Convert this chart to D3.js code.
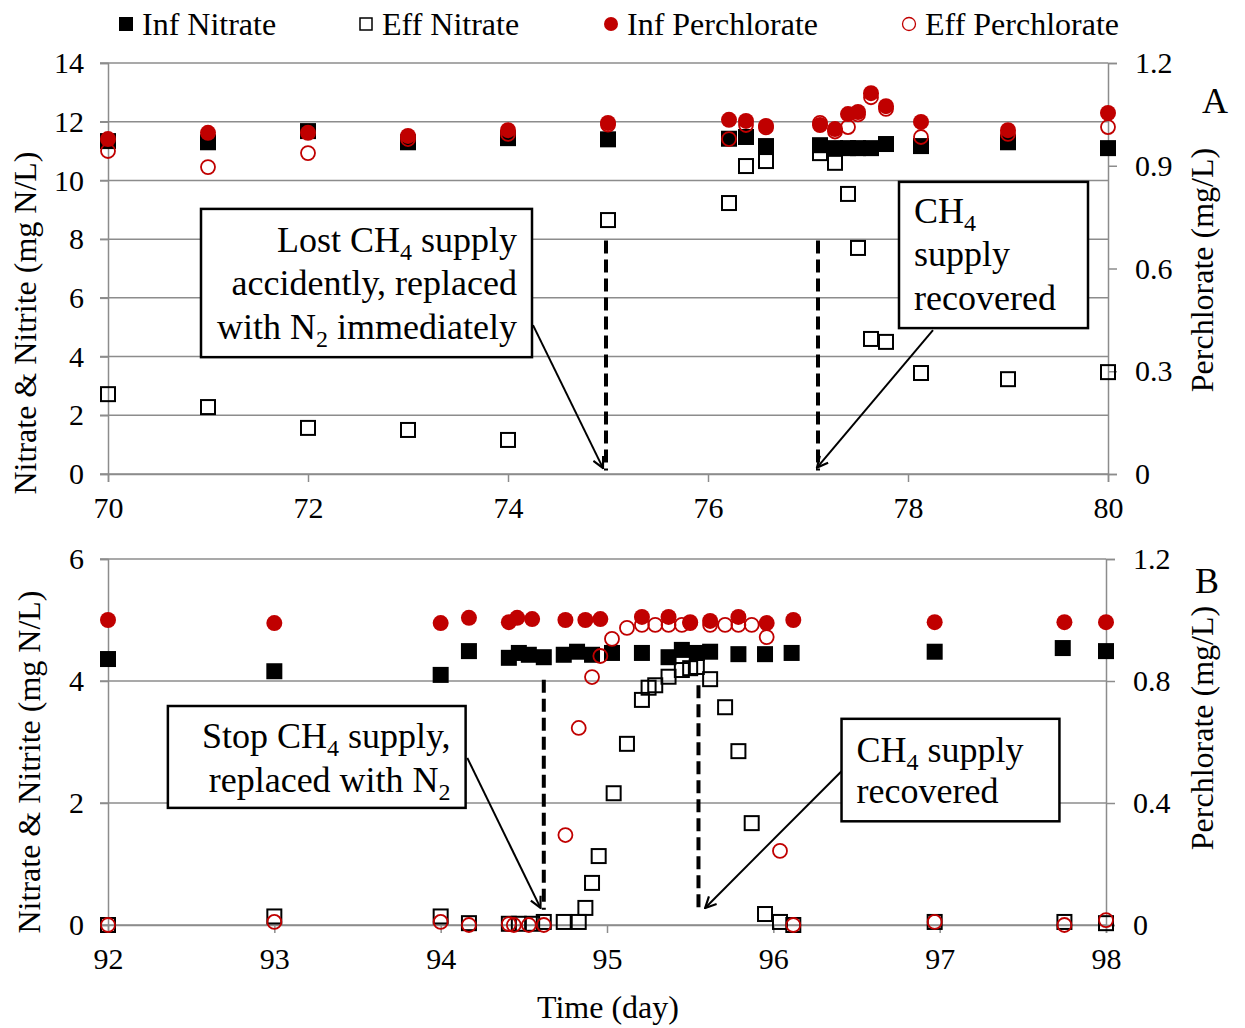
<!DOCTYPE html>
<html>
<head>
<meta charset="utf-8">
<script src="https://cdn.jsdelivr.net/npm/d3@7"></script>
<style>
  body { margin: 0; background: #fff; }
  svg text { font-family: "Liberation Serif", "Times New Roman", serif; fill: #000; }
</style>
</head>
<body>
<div id="chart"></div>
<script>
// ---- panel A (days 70-80) ----
const aTimes = [70, 71, 72, 73, 74, 75, 76.21, 76.38, 76.58, 77.12, 77.27, 77.4, 77.5, 77.63, 77.78, 78.13, 79, 80];
const aInfNitrate = [11.34, 11.3, 11.68, 11.3, 11.44, 11.4, 11.42, 11.48, 11.17, 11.2, 11.1, 11.1, 11.1, 11.1, 11.24, 11.17, 11.3, 11.1];
const aEffNitrate = [2.72, 2.28, 1.57, 1.5, 1.16, 8.65, 9.23, 10.49, 10.66, 10.93, 10.6, 9.54, 7.7, 4.6, 4.5, 3.44, 3.23, 3.47];
const aInfPerchlorate = [0.978, 0.996, 0.996, 0.987, 1.004, 1.025, 1.034, 1.031, 1.016, 1.019, 1.007, 1.051, 1.057, 1.112, 1.074, 1.028, 1.004, 1.054];
const aEffPerchlorate = [0.943, 0.896, 0.937, 0.978, 0.993, 1.02, 0.978, 1.019, 1.012, 1.025, 1.0, 1.013, 1.05, 1.10, 1.066, 0.984, 0.993, 1.013];

// ---- panel B (days 92-98) ----
const bInfNitrateT = [92, 93, 94, 94.17, 94.41, 94.47, 94.53, 94.62, 94.74, 94.82, 94.91, 95.03, 95.21, 95.37, 95.45, 95.54, 95.62, 95.79, 95.95, 96.11, 96.97, 97.74, 98];
const bInfNitrate = [4.36, 4.16, 4.1, 4.49, 4.38, 4.46, 4.43, 4.39, 4.43, 4.48, 4.43, 4.46, 4.46, 4.39, 4.51, 4.46, 4.48, 4.44, 4.44, 4.46, 4.48, 4.54, 4.49];
const bEffNitrateT = [92, 93, 94, 94.17, 94.41, 94.47, 94.55, 94.62, 94.74, 94.83, 94.87, 94.91, 94.95, 95.04, 95.12, 95.21, 95.25, 95.29, 95.37, 95.45, 95.5, 95.54, 95.62, 95.71, 95.79, 95.87, 95.95, 96.04, 96.12, 96.97, 97.75, 98];
const bEffNitrate = [0.0, 0.14, 0.14, 0.03, 0.02, 0.02, 0.02, 0.05, 0.05, 0.05, 0.28, 0.69, 1.13, 2.16, 2.97, 3.69, 3.89, 3.93, 4.07, 4.18, 4.21, 4.23, 4.03, 3.57, 2.85, 1.67, 0.18, 0.05, 0.0, 0.05, 0.05, 0.03];
const bInfPerchlorateT = [92, 93, 94, 94.17, 94.41, 94.46, 94.55, 94.75, 94.87, 94.96, 95.21, 95.37, 95.5, 95.62, 95.79, 95.96, 96.12, 96.97, 97.75, 98];
const bInfPerchlorate = [1.0, 0.99, 0.99, 1.007, 0.993, 1.007, 1.003, 1.0, 1.0, 1.003, 1.01, 1.01, 0.993, 0.997, 1.01, 0.99, 1.0, 0.993, 0.993, 0.993];
const bEffPerchlorateT = [92, 93, 94, 94.17, 94.41, 94.44, 94.53, 94.62, 94.75, 94.83, 94.91, 94.96, 95.03, 95.12, 95.21, 95.29, 95.37, 95.45, 95.5, 95.62, 95.71, 95.79, 95.87, 95.96, 96.04, 96.12, 96.97, 97.75, 98];
const bEffPerchlorate = [0.0, 0.01, 0.01, 0.0, 0.003, 0.0, 0.0, 0.0, 0.295, 0.646, 0.813, 0.882, 0.938, 0.974, 0.984, 0.984, 0.984, 0.984, 0.99, 0.984, 0.984, 0.984, 0.984, 0.944, 0.243, 0.0, 0.01, 0.0, 0.016];

const legendLabels = ["Inf Nitrate", "Eff Nitrate", "Inf Perchlorate", "Eff Perchlorate"];
const leftTitle = "Nitrate & Nitrite (mg N/L)";
const rightTitle = "Perchlorate (mg/L)";
const xTitle = "Time (day)";

const RED = "#C00000";
const GRID = "#8c8c8c";

const width = 1245, height = 1028;

const svg = d3.select("#chart")
  .append("svg")
  .attr("width", width)
  .attr("height", height);

// arrow head marker
svg.append("defs").append("marker")
  .attr("id", "arrow")
  .attr("viewBox", "0 0 12 12")
  .attr("refX", 11)
  .attr("refY", 6)
  .attr("markerWidth", 13)
  .attr("markerHeight", 13)
  .attr("markerUnits", "userSpaceOnUse")
  .attr("orient", "auto")
  .append("path")
  .attr("d", "M1,1 L11,6 L1,11")
  .attr("fill", "none")
  .attr("stroke", "#000")
  .attr("stroke-width", 2);

function zip(t, v) {
  return t.map((d, i) => ({ t: d, v: v[i] }));
}

function drawPanel(cfg) {
  const x = d3.scaleLinear().domain(cfg.xDomain).range([108, cfg.right]);
  const yL = d3.scaleLinear().domain(cfg.yDomain).range([cfg.bottom, cfg.top]);
  const yR = d3.scaleLinear().domain([0, 1.2]).range([cfg.bottom, cfg.top]);

  const g = svg.append("g");

  // gridlines
  g.append("g")
    .selectAll("line")
    .data(cfg.yTicks)
    .join("line")
    .attr("x1", 108 - 8)
    .attr("x2", cfg.right)
    .attr("y1", d => yL(d))
    .attr("y2", d => yL(d))
    .attr("stroke", GRID)
    .attr("stroke-width", 1.5);

  // left axis
  const left = g.append("g")
    .attr("transform", "translate(108,0)")
    .call(d3.axisLeft(yL).tickValues(cfg.yTicks).tickSize(8).tickPadding(16).tickFormat(d3.format("d")));

  // right axis
  const right = g.append("g")
    .attr("transform", `translate(${cfg.right},0)`)
    .call(d3.axisRight(yR).tickValues(cfg.rTicks).tickSize(9).tickPadding(18).tickFormat(d => d === 0 ? "0" : d3.format(".1f")(d)));

  // bottom axis
  const bottom = g.append("g")
    .attr("transform", `translate(0,${cfg.bottom})`)
    .call(d3.axisBottom(x).tickValues(cfg.xTicks).tickSize(8).tickPadding(15).tickFormat(d3.format("d")));

  [left, right, bottom].forEach(ax => {
    ax.selectAll(".domain").attr("stroke", GRID).attr("stroke-width", 1.5);
    ax.selectAll(".tick line").attr("stroke", GRID).attr("stroke-width", 1.5);
    ax.selectAll("text")
      .style("font-family", "'Liberation Serif', serif")
      .style("font-size", "30px")
      .attr("fill", "#000");
  });

  // dashed event lines
  g.append("g")
    .selectAll("line")
    .data(cfg.events)
    .join("line")
    .attr("x1", d => x(d.t))
    .attr("x2", d => x(d.t))
    .attr("y1", d => yL(d.from))
    .attr("y2", d => yL(d.to))
    .attr("stroke", "#000")
    .attr("stroke-width", 4)
    .attr("stroke-dasharray", "13,6");

  // Eff Nitrate (open squares)
  g.append("g")
    .selectAll("rect")
    .data(zip(cfg.effNT, cfg.effN))
    .join("rect")
    .attr("x", d => x(d.t) - 7)
    .attr("y", d => yL(d.v) - 7)
    .attr("width", 14)
    .attr("height", 14)
    .attr("fill", "none")
    .attr("stroke", "#000")
    .attr("stroke-width", 2);

  // Inf Nitrate (filled squares)
  g.append("g")
    .selectAll("rect")
    .data(zip(cfg.infNT, cfg.infN))
    .join("rect")
    .attr("x", d => x(d.t) - 8)
    .attr("y", d => yL(d.v) - 8)
    .attr("width", 16)
    .attr("height", 16)
    .attr("fill", "#000");

  // Eff Perchlorate (open circles)
  g.append("g")
    .selectAll("circle")
    .data(zip(cfg.effPT, cfg.effP))
    .join("circle")
    .attr("cx", d => x(d.t))
    .attr("cy", d => yR(d.v))
    .attr("r", 7)
    .attr("fill", "none")
    .attr("stroke", RED)
    .attr("stroke-width", 1.8);

  // Inf Perchlorate (filled circles)
  g.append("g")
    .selectAll("circle")
    .data(zip(cfg.infPT, cfg.infP))
    .join("circle")
    .attr("cx", d => x(d.t))
    .attr("cy", d => yR(d.v))
    .attr("r", 8)
    .attr("fill", RED);

  // annotation boxes + arrows
  cfg.notes.forEach(n => {
    const bx0 = x(n.box[0]), bx1 = x(n.box[1]);
    const by0 = yL(n.box[2]), by1 = yL(n.box[3]);
    g.append("line")
      .attr("x1", x(n.arrow[0]))
      .attr("y1", yL(n.arrow[1]))
      .attr("x2", x(n.arrow[2]))
      .attr("y2", yL(n.arrow[3]))
      .attr("stroke", "#000")
      .attr("stroke-width", 2)
      .attr("marker-end", "url(#arrow)");
    g.append("rect")
      .attr("x", bx0)
      .attr("y", by0)
      .attr("width", bx1 - bx0)
      .attr("height", by1 - by0)
      .attr("fill", "#fff")
      .attr("stroke", "#000")
      .attr("stroke-width", 2.5);
    const txt = g.append("text")
      .attr("text-anchor", n.align === "end" ? "end" : "start")
      .style("font-size", "36px");
    n.lines.forEach((parts, i) => {
      const row = txt.append("tspan")
        .attr("x", n.align === "end" ? bx1 - 15 : bx0 + 15)
        .attr("y", by0 + n.first + i * n.lead);
      parts.forEach(p => {
        if (typeof p === "object") {
          // subscript digit, then back to the baseline
          row.append("tspan").attr("dy", 8).style("font-size", "24px").text(p.sub);
          if (p.after) row.append("tspan").attr("dy", -8).text(p.after);
        } else {
          row.append("tspan").text(p);
        }
      });
    });
  });

  // panel letter
  svg.append("text")
    .attr("x", cfg.letterX)
    .attr("y", cfg.letterY)
    .attr("text-anchor", "middle")
    .style("font-size", "36px")
    .text(cfg.letter);

  // axis titles
  svg.append("text")
    .attr("transform", `translate(${cfg.ltX},${cfg.ltY}) rotate(-90)`)
    .attr("text-anchor", "middle")
    .style("font-size", "32px")
    .text(leftTitle);

  svg.append("text")
    .attr("transform", `translate(${cfg.rtX},${cfg.rtY}) rotate(-90)`)
    .attr("text-anchor", "middle")
    .style("font-size", "32px")
    .text(rightTitle);
}

drawPanel({
  xDomain: [70, 80], yDomain: [0, 14],
  right: 1108, top: 63, bottom: 474,
  xTicks: d3.range(70, 81, 2), yTicks: d3.range(0, 15, 2), rTicks: [0, 0.3, 0.6, 0.9, 1.2],
  infNT: aTimes, infN: aInfNitrate, effNT: aTimes, effN: aEffNitrate,
  infPT: aTimes, infP: aInfPerchlorate, effPT: aTimes, effP: aEffPerchlorate,
  events: [{ t: 74.98, from: 7.95, to: 0.12 }, { t: 77.1, from: 7.95, to: 0.12 }],
  notes: [
    { box: [70.93, 74.24, 9.03, 3.98], align: "end", first: 43, lead: 43.5,
      arrow: [74.25, 5.07, 74.95, 0.2],
      lines: [["Lost CH", { sub: "4", after: " supply" }], ["accidently, replaced"], ["with N", { sub: "2", after: " immediately" }]] },
    { box: [77.91, 79.8, 9.95, 4.97], align: "start", first: 41, lead: 43.5,
      arrow: [78.25, 4.9, 77.09, 0.22],
      lines: [["CH", { sub: "4" }], ["supply"], ["recovered"]] }
  ],
  letter: "A", letterX: 1215, letterY: 113,
  ltX: 36, ltY: 323, rtX: 1213, rtY: 270
});

drawPanel({
  xDomain: [92, 98], yDomain: [0, 6],
  right: 1106, top: 559, bottom: 925,
  xTicks: d3.range(92, 99, 1), yTicks: d3.range(0, 7, 2), rTicks: [0, 0.4, 0.8, 1.2],
  infNT: bInfNitrateT, infN: bInfNitrate, effNT: bEffNitrateT, effN: bEffNitrate,
  infPT: bInfPerchlorateT, infP: bInfPerchlorate, effPT: bEffPerchlorateT, effP: bEffPerchlorate,
  events: [{ t: 94.62, from: 4.02, to: 0.25 }, { t: 95.55, from: 3.93, to: 0.21 }],
  notes: [
    { box: [92.36, 94.15, 3.59, 1.92], align: "end", first: 42, lead: 44,
      arrow: [94.16, 2.74, 94.6, 0.28],
      lines: [["Stop CH", { sub: "4", after: " supply," }], ["replaced with N", { sub: "2" }]] },
    { box: [96.41, 97.72, 3.38, 1.7], align: "start", first: 43, lead: 41,
      arrow: [96.41, 2.52, 95.59, 0.28],
      lines: [["CH", { sub: "4", after: " supply" }], ["recovered"]] }
  ],
  letter: "B", letterX: 1207, letterY: 593,
  ltX: 40, ltY: 762, rtX: 1213, rtY: 728
});

svg.append("text")
  .attr("x", 608)
  .attr("y", 1018)
  .attr("text-anchor", "middle")
  .style("font-size", "32px")
  .text(xTitle);

// legend
const legendX = [126, 366, 611, 909];
const legend = svg.append("g");
legendLabels.forEach((label, i) => {
  const cx = legendX[i], cy = 24;
  if (i === 0) {
    legend.append("rect").attr("x", cx - 7).attr("y", cy - 7).attr("width", 14).attr("height", 14).attr("fill", "#000");
  } else if (i === 1) {
    legend.append("rect").attr("x", cx - 6).attr("y", cy - 6).attr("width", 12).attr("height", 12)
      .attr("fill", "none").attr("stroke", "#000").attr("stroke-width", 1.5);
  } else if (i === 2) {
    legend.append("circle").attr("cx", cx).attr("cy", cy).attr("r", 7).attr("fill", RED);
  } else {
    legend.append("circle").attr("cx", cx).attr("cy", cy).attr("r", 6.5)
      .attr("fill", "none").attr("stroke", RED).attr("stroke-width", 1.3);
  }
  legend.append("text")
    .attr("x", cx + 16)
    .attr("y", cy + 11)
    .style("font-size", "32px")
    .text(label);
});
</script>
</body>
</html>
